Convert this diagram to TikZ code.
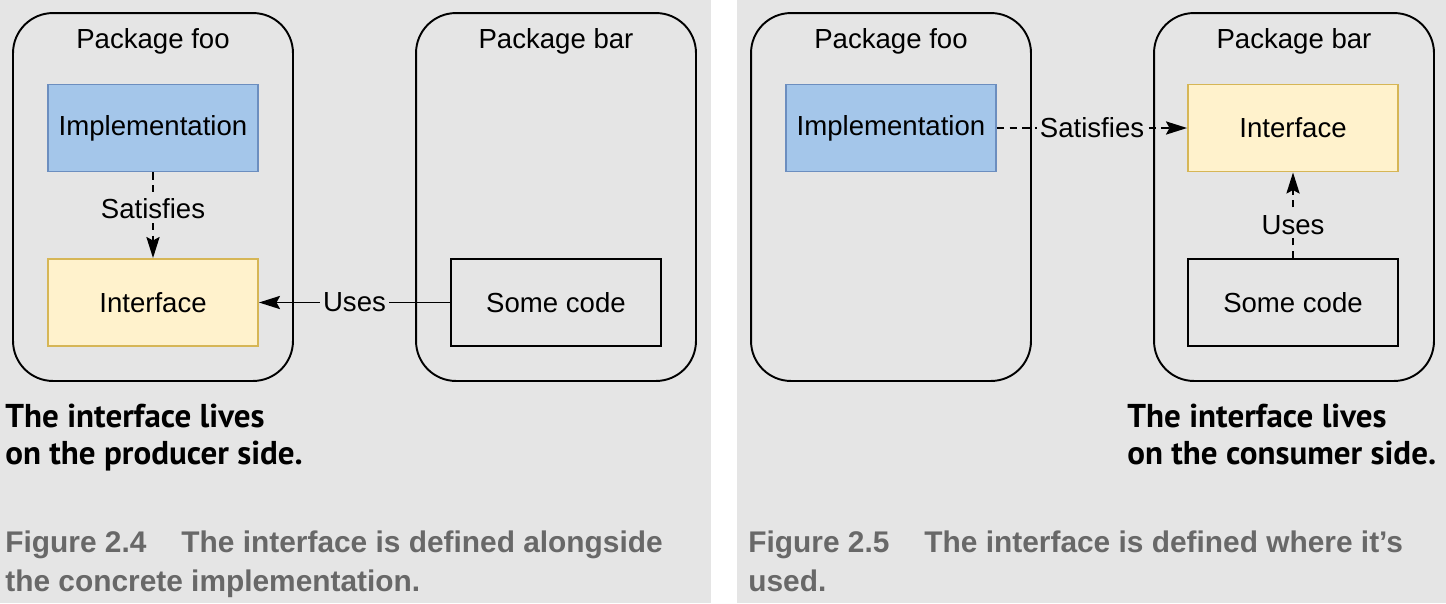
\documentclass[tikz,border=0pt]{standalone}
\usepackage{fontspec}
\setmainfont{Liberation Sans}
\newfontfamily\notefont{PT Sans}
\usepackage{xcolor}
\usepackage{tikz}
\usetikzlibrary{arrows.meta}

\definecolor{panelgray}{HTML}{E5E5E5}
\definecolor{captiongray}{HTML}{686868}
\definecolor{implfill}{HTML}{A4C6EA}
\definecolor{impldraw}{HTML}{6C8EBF}
\definecolor{intffill}{HTML}{FFF2CC}
\definecolor{intfdraw}{HTML}{D6B656}

\begin{document}
\begin{tikzpicture}[x=0.02cm, y=-0.02cm,
    pkg/.style={draw, line width=1.1pt, rounded corners=0.8cm, minimum width=5.6cm, minimum height=7.36cm},
    pkgname/.style={font=\fontsize{15.7}{18}\selectfont},
    box/.style={draw, line width=1.1pt, minimum width=4.2cm, minimum height=1.74cm, font=\fontsize{15.7}{18}\selectfont},
    impl/.style={box, fill=implfill, draw=impldraw},
    intf/.style={box, fill=intffill, draw=intfdraw},
    lbl/.style={font=\fontsize{15.7}{18}\selectfont, fill=panelgray, inner sep=1.5pt},
    link/.style={line width=1.1pt, -{Stealth[length=12pt, width=7.5pt, inset=2pt]}},
    dashlink/.style={link, dash pattern=on 4.2pt off 3pt},
    note/.style={font=\notefont\bfseries\fontsize{18.8}{21}\selectfont, align=left, anchor=base west, inner sep=0pt},
    caption/.style={font=\bfseries\fontsize{17}{22}\selectfont, text=captiongray, align=left, anchor=base west, inner sep=0pt}]

  % Panels
  \useasboundingbox (0,0) rectangle (1446,603);
  \fill[panelgray] (0,0) rectangle (711,603);
  \fill[panelgray] (737,0) rectangle (1446,603);

  % Packages
  \foreach \n/\x/\t in {fooA/153/foo, barA/556/bar, fooB/891/foo, barB/1294/bar} {
    \node[pkg] (\n) at (\x,197) {};
    \node[pkgname] (\n name) at (\x,41) {Package \t};
  }

  % Nodes, figure 2.4
  \node[impl] (implA) at (153,128) {Implementation};
  \node[intf] (intfA) at (153,302.5) {Interface};
  \node[box] (codeA) at (556,302.5) {Some code};

  % Nodes, figure 2.5
  \node[impl] (implB) at (891,128) {Implementation};
  \node[intf] (intfB) at (1293,128) {Interface};
  \node[box] (codeB) at (1293,302.5) {Some code};

  % Edges
  \draw[dashlink] (implA) -- node[lbl, pos=0.42] {Satisfies} (intfA);
  \draw[link] (codeA) -- node[lbl] {Uses} (intfA);
  \draw[dashlink] (implB) -- node[lbl] {Satisfies} (intfB);
  \draw[dashlink] (codeB) -- node[lbl, pos=0.38] {Uses} (intfB);

  % Texts
  \node[note] (noteA) at (5,464) {The interface lives\\on the producer side.};
  \node[note] (noteB) at (1127,464) {The interface lives\\on the consumer side.};
  \node[caption] (capA) at (5,591) {Figure 2.4\hspace{0.7cm}The interface is defined alongside\\the concrete implementation.};
  \node[caption] (capB) at (748,591) {Figure 2.5\hspace{0.7cm}The interface is defined where it’s\\used.};
\end{tikzpicture}
\end{document}
